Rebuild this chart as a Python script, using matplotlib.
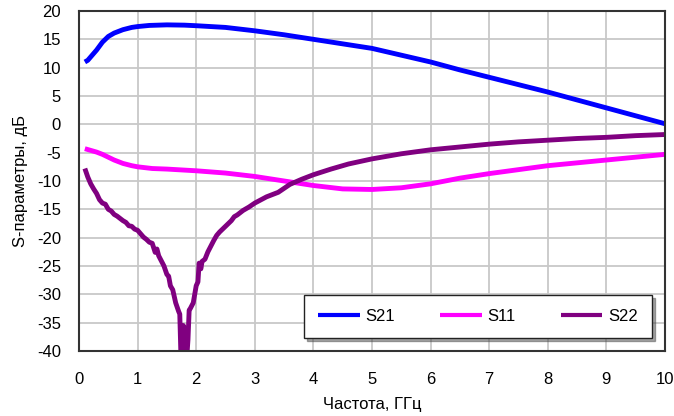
import matplotlib
matplotlib.use("Agg")
import matplotlib.pyplot as plt

# frequency, GHz and S-parameters, dB
f21 = [0.1, 0.15, 0.2, 0.3, 0.4, 0.5, 0.6, 0.75, 0.9, 1.0, 1.2, 1.5, 1.8, 2.0,
       2.5, 3.0, 3.5, 4.0, 4.5, 5.0, 5.5, 6.0, 6.5, 7.0, 7.5, 8.0, 8.5, 9.0,
       9.5, 10.0]
s21 = [11.0, 11.3, 11.9, 13.1, 14.5, 15.5, 16.1, 16.7, 17.1, 17.25, 17.45,
       17.55, 17.5, 17.4, 17.1, 16.5, 15.8, 15.0, 14.2, 13.4, 12.2, 11.0, 9.6,
       8.3, 7.0, 5.7, 4.3, 2.9, 1.5, 0.1]

f11 = [0.1, 0.2, 0.3, 0.4, 0.5, 0.6, 0.75, 0.9, 1.0, 1.25, 1.5, 2.0, 2.5, 3.0,
       3.5, 4.0, 4.5, 5.0, 5.5, 6.0, 6.5, 7.0, 7.5, 8.0, 8.5, 9.0, 9.5, 10.0]
s11 = [-4.3, -4.6, -4.9, -5.3, -5.8, -6.3, -6.9, -7.3, -7.5, -7.8, -7.9, -8.2,
       -8.6, -9.2, -10.0, -10.8, -11.4, -11.5, -11.2, -10.5, -9.5, -8.7, -8.0,
       -7.3, -6.8, -6.3, -5.8, -5.3]

f22 = [0.1, 0.15, 0.2, 0.25, 0.3, 0.35, 0.4, 0.45, 0.5, 0.55, 0.6, 0.65, 0.7,
       0.75, 0.8, 0.85, 0.9, 0.95, 1.0, 1.05, 1.1, 1.15, 1.2, 1.25, 1.3, 1.33,
       1.36, 1.4, 1.45, 1.5, 1.53, 1.56, 1.6, 1.65, 1.7, 1.72, 1.74, 1.76,
       1.78, 1.8, 1.82, 1.84, 1.86, 1.88, 1.9, 1.95, 2.0, 2.03, 2.05, 2.08,
       2.1, 2.15, 2.2, 2.25, 2.3, 2.35, 2.4, 2.5, 2.6, 2.65, 2.7, 2.8, 2.9,
       3.0, 3.2, 3.4, 3.6, 3.8, 4.0, 4.3, 4.6, 5.0, 5.5, 6.0, 6.5, 7.0, 7.5,
       8.0, 8.5, 9.0, 9.5, 10.0]
s22 = [-7.8, -9.3, -10.5, -11.4, -12.2, -13.3, -13.9, -14.1, -15.0, -15.3,
       -15.9, -16.2, -16.6, -17.0, -17.3, -17.9, -18.0, -18.5, -18.7, -19.3,
       -19.9, -20.3, -20.8, -21.0, -22.6, -22.0, -23.2, -24.0, -25.0, -26.5,
       -26.8, -28.5, -29.2, -31.5, -33.0, -33.5, -41.0, -39.0, -35.5, -36.0,
       -41.0, -41.0, -38.0, -32.8, -32.5, -31.5, -28.5, -27.8, -24.5, -25.5,
       -24.2, -23.8, -22.5, -21.5, -20.5, -19.6, -19.0, -18.0, -17.0, -16.3,
       -16.0, -15.2, -14.6, -13.9, -12.8, -12.0, -10.6, -9.7, -8.9, -7.9,
       -7.0, -6.1, -5.2, -4.5, -4.0, -3.5, -3.1, -2.8, -2.5, -2.3, -2.0, -1.8]

x_ticks = list(range(0, 11))
y_ticks = list(range(-40, 21, 5))

plt.rcParams['font.family'] = ['Liberation Sans Narrow', 'Liberation Sans', 'DejaVu Sans']
plt.rcParams['axes.unicode_minus'] = False
FS = 12

fig = plt.figure(figsize=(6.74, 4.16), dpi=100)
ax = fig.add_axes([0.1172, 0.1563, 0.8694, 0.8173])

ax.plot(f21, s21, color='#0000FF', lw=3.5, label='S21', solid_capstyle='butt')
ax.plot(f11, s11, color='#FF00FF', lw=3.5, label='S11', solid_capstyle='butt')
ax.plot(f22, s22, color='#800080', lw=3.5, label='S22', solid_capstyle='butt')

ax.set_xlim(0, 10)
ax.set_ylim(-40, 20)
ax.set_xticks(x_ticks)
ax.set_yticks(y_ticks)
ax.grid(True, color='#c8c8c8', lw=1.3)
ax.set_axisbelow(True)
ax.tick_params(length=0, labelsize=FS)
ax.tick_params(axis='y', pad=13)
ax.tick_params(axis='x', pad=15)
for sp in ax.spines.values():
    sp.set_color('#333333')
    sp.set_linewidth(1.5)

ax.set_xlabel('Частота, ГГц', fontsize=FS, labelpad=7)
ax.set_ylabel('S-параметры, дБ', fontsize=FS, labelpad=6)

leg = ax.legend(loc='lower left', bbox_to_anchor=(0.384, 0.038, 0.594, 0.139),
                mode='expand', ncol=3, fontsize=FS, handlelength=2.5,
                handletextpad=0.35, fancybox=False, shadow=True,
                edgecolor='#222222', framealpha=1, borderpad=0.85,
                borderaxespad=0)
leg.get_frame().set_linewidth(1.0)
for ln in leg.get_lines():
    ln.set_linewidth(3.0)

fig.savefig('out.png', dpi=100)
